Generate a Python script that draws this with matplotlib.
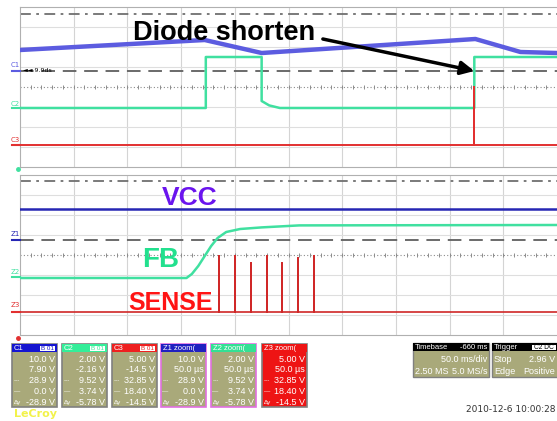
import matplotlib.pyplot as plt
import numpy as np
from matplotlib.patches import Rectangle

W, H = 557, 421

# top capture (50 ms/div), values in screen divisions
t_c1 = [0, 172, 225, 424, 466, 500]
v_c1 = [1.85, 2.35, 1.7, 2.4, 1.75, 1.7]
t_c2 = [0, 173, 173, 225, 225, 232, 242, 423, 423, 500]
v_c2 = [-1.05, -1.05, 1.5, 1.5, -0.7, -0.92, -1.05, -1.05, 1.5, 1.5]
t_c3 = [0, 423, 423, 423, 500]
v_c3 = [-2.9, -2.9, 0.0, -2.9, -2.9]
cur_top = (3.65, 0.8)

# zoomed capture (50 us/div)
t_vcc = [0, 500]
v_vcc = [2.3, 2.3]
t_fb = [0, 155, 160, 166, 172, 178, 184, 192, 205, 225, 260, 500]
v_fb = [-1.15, -1.15, -0.95, -0.55, -0.05, 0.45, 0.85, 1.15, 1.3, 1.38, 1.48, 1.5]
sense_base = -2.85
t_pulse = [185, 200, 215, 230, 244, 259, 274]
v_pulse = [-0.05, -0.05, -0.4, -0.05, -0.4, -0.15, -0.05]
cur_bot = (3.7, 0.75)

# channel readout boxes
box_names = ['C1', 'C2', 'C3', 'Z1 zoom(', 'Z2 zoom(', 'Z3 zoom(']
box_rows = [
    ['10.0 V', '7.90 V', '28.9 V', '0.0 V', '-28.9 V'],
    ['2.00 V', '-2.16 V', '9.52 V', '3.74 V', '-5.78 V'],
    ['5.00 V', '-14.5 V', '32.85 V', '18.40 V', '-14.5 V'],
    ['10.0 V', '50.0 \u00b5s', '28.9 V', '0.0 V', '-28.9 V'],
    ['2.00 V', '50.0 \u00b5s', '9.52 V', '3.74 V', '-5.78 V'],
    ['5.00 V', '50.0 \u00b5s', '32.85 V', '18.40 V', '-14.5 V'],
]
row_marks = ['', '', '---', '\u2014', '\u0394y']

BLUE = '#5c5ce0'
DBLUE = '#2626b4'
GREEN = '#40e0a0'
RED = '#e23030'
OLIVE = '#a9a97a'
NARROW = ['Liberation Sans Narrow', 'Liberation Sans', 'DejaVu Sans']

fig = plt.figure(figsize=(W / 100, H / 100), dpi=100)


def scope(ax, cur):
    ax.set_xlim(0, 500)
    ax.set_ylim(-4, 4)
    ax.set_xticks([])
    ax.set_yticks([])
    for x in range(50, 500, 50):
        ax.axvline(x, color='#d4d4d4', lw=0.8, zorder=0)
    for y in (-3, -2, -1, 1, 2, 3):
        ax.axhline(y, color='#dedede', lw=0.8, zorder=0)
    ax.axhline(0, color='#8c8c8c', lw=0.8, ls=(0, (1, 2)), zorder=0)
    tk = np.arange(10, 500, 10)
    ax.plot(tk, np.zeros_like(tk), '|', color='#8c8c8c', ms=3, mew=0.7, zorder=0)
    ax.axhline(cur[0], color='#707070', lw=1.3, ls=(0, (6, 3, 1.5, 3)), zorder=1)
    ax.axhline(cur[1], color='#6a6a6a', lw=1.4, ls=(0, (7, 4)), zorder=1)
    for s in ax.spines.values():
        s.set_color('#b0b0b0')
        s.set_linewidth(0.8)
    ax.spines['right'].set_visible(False)


ax1 = fig.add_axes([20 / W, (H - 167) / H, 537 / W, 160 / H])
scope(ax1, cur_top)
ax1.plot(t_c1, v_c1, color=BLUE, lw=3.2, solid_joinstyle='round', zorder=3)
ax1.plot(t_c2, v_c2, color=GREEN, lw=1.8, zorder=3)
ax1.plot(t_c3, v_c3, color=RED, lw=1.4, zorder=3)
ax1.text(105, 2.35, 'Diode shorten', fontsize=19.5, fontweight='bold',
         family='Liberation Sans', va='baseline', zorder=6)
ax1.annotate('', xy=(t_c3[1], cur_top[1]), xytext=(282, 2.4),
             arrowprops=dict(arrowstyle='-|>', color='black', lw=2.5,
                             mutation_scale=20, shrinkA=0, shrinkB=0), zorder=6)

ax2 = fig.add_axes([20 / W, (H - 335) / H, 537 / W, 160 / H])
scope(ax2, cur_bot)
ax2.plot(t_vcc, v_vcc, color=DBLUE, lw=1.8, zorder=3)
ax2.plot(t_fb, v_fb, color=GREEN, lw=1.8, zorder=3)
ts = [0]
vs = [sense_base]
for t, v in zip(t_pulse, v_pulse):
    ts += [t, t, t]
    vs += [sense_base, v, sense_base]
ts.append(500)
vs.append(sense_base)
ax2.plot(ts, vs, color='#d02828', lw=1.2, zorder=3)
lab = dict(fontweight='bold', family='Liberation Sans', va='baseline',
           ha='center', zorder=6)
ax2.text(158, 2.5, 'VCC', fontsize=19, color='#6a14ee', **lab)
ax2.text(131, -0.6, 'FB', fontsize=20, color='#22e08e', **lab)
ax2.text(140, -2.75, 'SENSE', fontsize=18, color='#ff1414', **lab)

# overlay in screen pixels for the scope furniture
ov = fig.add_axes([0, 0, 1, 1])
ov.set_xlim(0, W)
ov.set_ylim(H, 0)
ov.axis('off')

for name, y, c in [('C1', 65, BLUE), ('C2', 104, GREEN), ('C3', 140, RED),
                   ('Z1', 234, DBLUE), ('Z2', 272, GREEN), ('Z3', 305, RED)]:
    ov.text(15, y, name, fontsize=5, color=c, ha='center', va='center')
for y, c in [(71, BLUE), (108, GREEN), (145, RED), (240, DBLUE), (277, GREEN), (312, RED)]:
    ov.plot([12, 20], [y, y], color=c, lw=1.5)
ov.text(23, 71, '\u25c4\u25c4 9.9ds', fontsize=4.5, color='black', va='center')
ov.plot([18], [169], 'o', color=GREEN, ms=2.5)
ov.plot([18], [338], 'o', color=RED, ms=2.5)

heads = ['#1515d0', '#33ee99', '#ee2020', '#2020c0', '#33e094', '#ee1414']
lefts = [12, 62, 112, 161, 211, 262]
bw = 45
for i, (name, rows) in enumerate(zip(box_names, box_rows)):
    x0 = lefts[i]
    zoom_box = i >= 3
    fill = '#ee1414' if i == 5 else OLIVE
    edge = '#e070e0' if i in (3, 4) else '#808080'
    ov.add_patch(Rectangle((x0, 344), bw, 63, fc=fill, ec=edge, lw=1.2))
    ov.add_patch(Rectangle((x0, 344), bw, 8, fc=heads[i], ec='none'))
    ov.text(x0 + 2, 348.5, name, fontsize=5.5, color='white', va='center',
            family=NARROW)
    if not zoom_box:
        ov.add_patch(Rectangle((x0 + bw - 17, 345.5), 15, 5.5, fc='white', ec='none'))
        ov.text(x0 + bw - 9.5, 348.3, 'B 01', fontsize=4.5, color=heads[i],
                ha='center', va='center', family=NARROW)
    for j, (mark, val) in enumerate(zip(row_marks, rows)):
        yy = 359 + j * 10.8
        ov.text(x0 + bw - 2, yy, val, fontsize=6.5, color='white', ha='right',
                va='center', family=NARROW)
        if mark:
            ov.text(x0 + 1.5, yy, mark, fontsize=4.5, color='white', va='center',
                    family=NARROW)

# timebase / trigger
ov.add_patch(Rectangle((413, 343), 76, 34, fc=OLIVE, ec='#808080', lw=1))
ov.add_patch(Rectangle((413, 343), 76, 8, fc='black', ec='none'))
ov.text(415, 347.3, 'Timebase', fontsize=5.5, color='white', va='center', family=NARROW)
ov.text(487, 347.3, '-660 ms', fontsize=5.5, color='white', va='center', ha='right',
        family=NARROW)
ov.text(487, 359.5, '50.0 ms/div', fontsize=6.5, color='white', va='center', ha='right',
        family=NARROW)
ov.text(415, 371, '2.50 MS', fontsize=6.5, color='white', va='center', family=NARROW)
ov.text(487, 371, '5.0 MS/s', fontsize=6.5, color='white', va='center', ha='right',
        family=NARROW)

ov.add_patch(Rectangle((492, 343), 76, 34, fc=OLIVE, ec='#808080', lw=1))
ov.add_patch(Rectangle((492, 343), 76, 8, fc='black', ec='none'))
ov.text(494, 347.3, 'Trigger', fontsize=5.5, color='white', va='center', family=NARROW)
ov.add_patch(Rectangle((532, 344.5), 24, 5.5, fc='white', ec='none'))
ov.text(544, 347.3, 'C2 DC', fontsize=4.8, color='black', va='center', ha='center',
        family=NARROW)
ov.text(494, 359.5, 'Stop', fontsize=6.5, color='white', va='center', family=NARROW)
ov.text(555, 359.5, '2.96 V', fontsize=6.5, color='white', va='center', ha='right',
        family=NARROW)
ov.text(494, 371, 'Edge', fontsize=6.5, color='white', va='center', family=NARROW)
ov.text(555, 371, 'Positive', fontsize=6.5, color='white', va='center', ha='right',
        family=NARROW)

ov.text(14, 414, 'LeCroy', fontsize=8, color='#f2f24a', fontweight='bold', va='center')
ov.text(556, 410, '2010-12-6 10:00:28', fontsize=6.5, color='#333333', ha='right',
        va='center')

fig.savefig('out.png', dpi=100, facecolor='white')
